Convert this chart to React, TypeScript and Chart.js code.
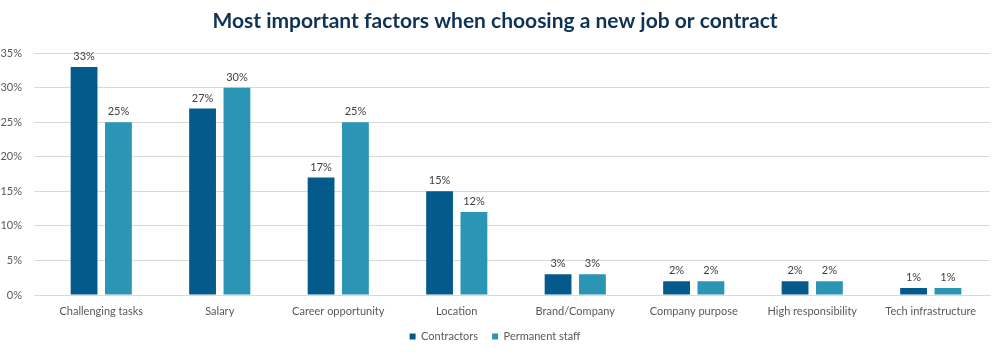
import React, { useEffect, useRef } from "react";
import { Chart, registerables } from "chart.js";

Chart.register(...registerables);

const categories = [
  "Challenging tasks",
  "Salary",
  "Career opportunity",
  "Location",
  "Brand/Company",
  "Company purpose",
  "High responsibility",
  "Tech infrastructure",
];
const contractors = [33, 27, 17, 15, 3, 2, 2, 1];
const permanentStaff = [25, 30, 25, 12, 3, 2, 2, 1];
const yTicks = [0, 5, 10, 15, 20, 25, 30, 35];

const labelPlugin = {
  id: "barLabels",
  afterDatasetsDraw(chart: any) {
    const ctx = chart.ctx;
    ctx.save();
    ctx.font = "11px Lato";
    ctx.fillStyle = "#404040";
    ctx.textAlign = "center";
    ctx.textBaseline = "bottom";
    chart.data.datasets.forEach((ds: any, i: number) => {
      const meta = chart.getDatasetMeta(i);
      meta.data.forEach((bar: any, j: number) => {
        ctx.fillText(ds.data[j] + "%", bar.x, bar.y - 5);
      });
    });
    ctx.restore();
  },
};

export default function App() {
  const ref = useRef<HTMLCanvasElement>(null);
  useEffect(() => {
    document.body.style.margin = "0";
    const chart = new Chart(ref.current!, {
      type: "bar",
      data: {
        labels: categories,
        datasets: [
          {
            label: "Contractors",
            data: contractors,
            backgroundColor: "#035a8b",
            barPercentage: 0.78,
            categoryPercentage: 0.58,
          },
          {
            label: "Permanent staff",
            data: permanentStaff,
            backgroundColor: "#2a95b5",
            barPercentage: 0.78,
            categoryPercentage: 0.58,
          },
        ],
      },
      options: {
        responsive: false,
        animation: false,
        layout: { padding: { left: 0, right: 10, top: 0, bottom: 12 } },
        plugins: {
          title: {
            display: true,
            text: "Most important factors when choosing a new job or contract",
            color: "#0f3355",
            font: { family: "Lato", size: 21, weight: "bold" },
            padding: { top: 9, bottom: 19 },
          },
          legend: {
            position: "bottom",
            labels: {
              boxWidth: 6,
              boxHeight: 6,
              color: "#595959",
              font: { family: "Lato", size: 11 },
              padding: 14,
            },
          },
          tooltip: { enabled: false },
        },
        scales: {
          x: {
            grid: { display: false },
            border: { color: "#d9d9d9" },
            ticks: { color: "#595959", font: { family: "Lato", size: 11 }, padding: 2 },
            afterFit(scale: any) {
              scale.height = 22;
            },
          },
          y: {
            min: 0,
            max: 35,
            afterBuildTicks(scale: any) {
              scale.ticks = yTicks.map((v) => ({ value: v }));
            },
            grid: { color: "#d9d9d9" },
            border: { display: false },
            ticks: {
              color: "#595959",
              font: { family: "Lato", size: 11 },
              padding: 12,
              callback: (v: any) => v + "%",
            },
            afterFit(scale: any) {
              scale.width = 42;
            },
          },
        },
      },
      plugins: [labelPlugin],
    });
    return () => chart.destroy();
  }, []);
  return <canvas ref={ref} width={1000} height={364} style={{ display: "block" }} />;
}
